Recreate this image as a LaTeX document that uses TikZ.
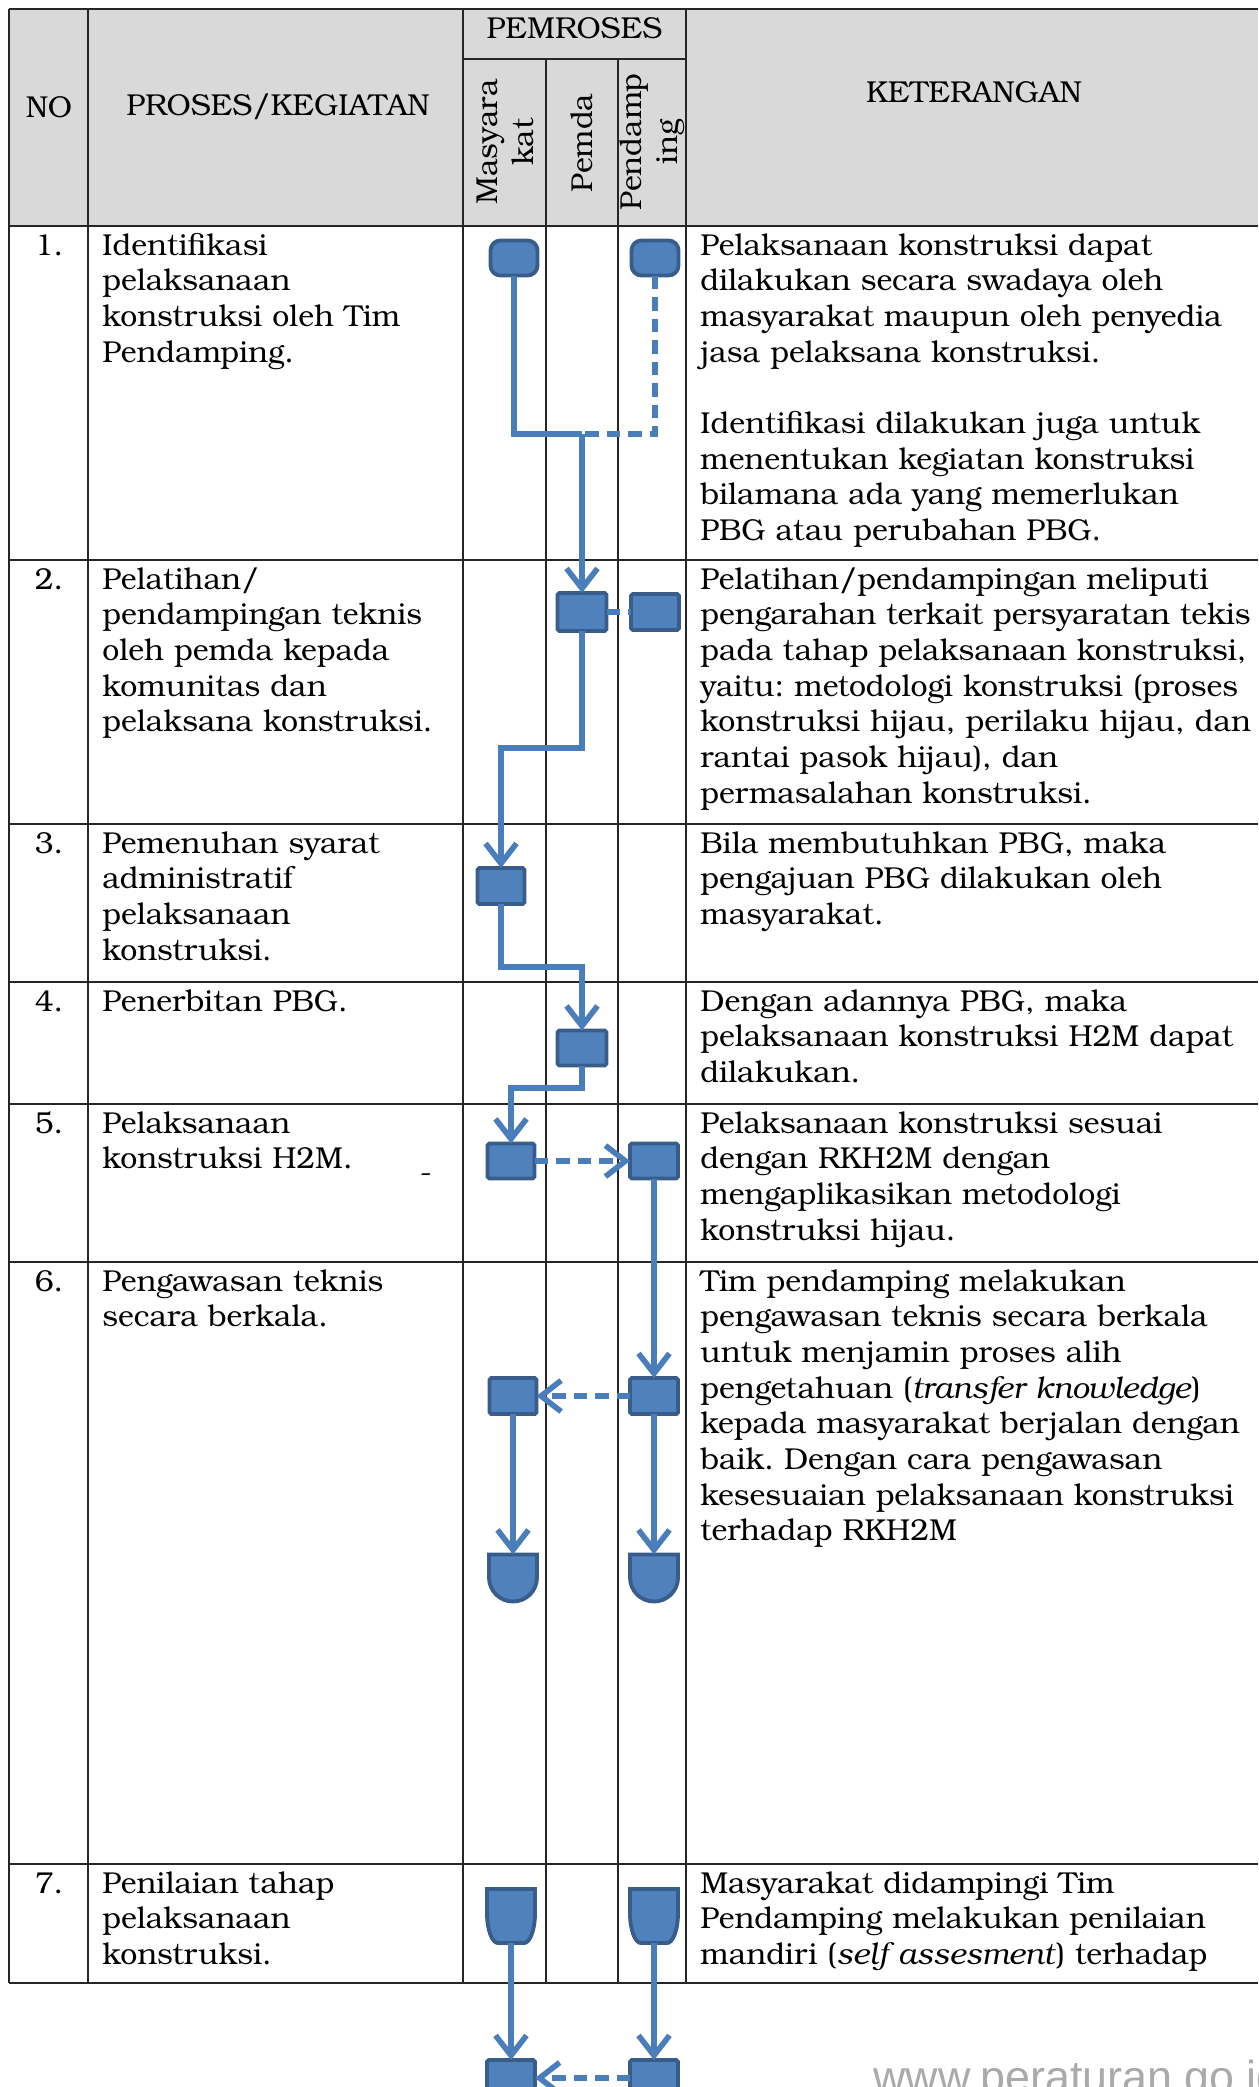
\documentclass[tikz,border=0pt]{standalone}
\usepackage{fontspec}
\setmainfont{TeX Gyre Bonum}
\newfontfamily\wmfont{Liberation Sans}
\usetikzlibrary{arrows.meta, calc}
\definecolor{lane}{RGB}{79,129,189}
\definecolor{laneedge}{RGB}{56,93,138}
\definecolor{flow}{RGB}{74,126,187}
\definecolor{hdr}{RGB}{217,217,217}
\definecolor{wm}{RGB}{170,170,170}
\frenchspacing

\begin{document}
\begin{tikzpicture}[font=\fontsize{17.2}{20.3}\selectfont,
  tabline/.style={line width=0.8pt, black!85},
  txt/.style={anchor=base west, align=left, inner sep=0, text width=#1},
  num/.style={anchor=base, inner sep=0},
  term/.style={draw=laneedge, line width=2.2pt, fill=lane, rounded corners=0.2cm, minimum width=0.94cm, minimum height=0.7cm, inner sep=0, outer sep=0},
  act/.style={draw=laneedge, line width=2.2pt, fill=lane, rounded corners=1pt, minimum width=0.96cm, minimum height=0.72cm, inner sep=0, outer sep=0},
  endbox/.style={minimum width=0.96cm, minimum height=#1, inner sep=0, outer sep=0},
  shapeline/.style={draw=laneedge, line width=2.2pt, fill=lane},
  ar/.style={-{Straight Barb[length=0.4cm, width=0.62cm]}, line width=3.2pt, flow},
  ln/.style={line width=3.2pt, flow},
  dsh/.style={dash pattern=on 0.27cm off 0.16cm}]

\useasboundingbox (0,0) rectangle (25.16,-41.74);
\clip (0,0) rectangle (25.16,-41.74);

% table
\fill[hdr] (0.18,-0.18) rectangle (25.16,-4.52);
\foreach \y in {0.18,4.52,11.20,16.48,19.64,22.08,25.24,37.28,39.66}
  \draw[tabline] (0.18,-\y) -- (25.16,-\y);
\draw[tabline] (9.26,-1.18) -- (13.72,-1.18);
\foreach \x in {0.18,1.76,9.26,13.72}
  \draw[tabline] (\x,-0.18) -- (\x,-39.66);
\foreach \x in {10.92,12.36}
  \draw[tabline] (\x,-1.18) -- (\x,-39.66);

% header
\node (hno) at (0.98,-2.14) {NO};
\node (hproc) at (5.56,-2.14) {PROSES/KEGIATAN};
\node (hpem) at (11.49,-0.56) {PEMROSES};
\node[rotate=90, align=center] (hmas) at (10.10,-2.84) {Masyara\\kat};
\node[rotate=90] (hpemda) at (11.64,-2.86) {Pemda};
\node[rotate=90, align=center] (hpend) at (13.04,-2.84) {Pendamp\\ing};
\node (hket) at (19.48,-1.85) {KETERANGAN};

% row numbers
\foreach \n/\y in {1/5.10,2/11.78,3/17.06,4/20.22,5/22.66,6/25.82,7/37.86}
  \node[num] (no\n) at (0.98,-\y) {\n.};

% proses / kegiatan
\node[txt=7.4cm] (p1) at (2.04,-5.10) {Identifikasi\\pelaksanaan\\konstruksi oleh Tim\\Pendamping.};
\node[txt=7.4cm] (p2) at (2.04,-11.78) {Pelatihan/\\pendampingan teknis\\oleh pemda kepada\\komunitas dan\\pelaksana konstruksi.};
\node[txt=7.4cm] (p3) at (2.04,-17.06) {Pemenuhan syarat\\administratif\\pelaksanaan\\konstruksi.};
\node[txt=7.4cm] (p4) at (2.04,-20.22) {Penerbitan PBG.};
\node[txt=7.4cm] (p5) at (2.04,-22.66) {Pelaksanaan\\konstruksi H2M.};
\node[txt=7.4cm] (p6) at (2.04,-25.82) {Pengawasan teknis\\secara berkala.};
\node[txt=7.4cm] (p7) at (2.04,-37.86) {Penilaian tahap\\pelaksanaan\\konstruksi.};
\node (dash5) at (8.52,-23.56) {-};

% keterangan
\node[txt=11.3cm] (k1) at (14.00,-5.10) {Pelaksanaan konstruksi dapat\\dilakukan secara swadaya oleh\\masyarakat maupun oleh penyedia\\jasa pelaksana konstruksi.\\[20.3pt]Identifikasi dilakukan juga untuk\\menentukan kegiatan konstruksi\\bilamana ada yang memerlukan\\PBG atau perubahan PBG.};
\node[txt=11.3cm] (k2) at (14.00,-11.78) {Pelatihan/pendampingan meliputi\\pengarahan terkait persyaratan tekis\\pada tahap pelaksanaan konstruksi,\\yaitu: metodologi konstruksi (proses\\konstruksi hijau, perilaku hijau, dan\\rantai pasok hijau), dan\\permasalahan konstruksi.};
\node[txt=11.3cm] (k3) at (14.00,-17.06) {Bila membutuhkan PBG, maka\\pengajuan PBG dilakukan oleh\\masyarakat.};
\node[txt=11.3cm] (k4) at (14.00,-20.22) {Dengan adannya PBG, maka\\pelaksanaan konstruksi H2M dapat\\dilakukan.};
\node[txt=11.3cm] (k5) at (14.00,-22.66) {Pelaksanaan konstruksi sesuai\\dengan RKH2M dengan\\mengaplikasikan metodologi\\konstruksi hijau.};
\node[txt=11.3cm] (k6) at (14.00,-25.82) {Tim pendamping melakukan\\pengawasan teknis secara berkala\\untuk menjamin proses alih\\pengetahuan (\textit{transfer knowledge})\\kepada masyarakat berjalan dengan\\baik. Dengan cara pengawasan\\kesesuaian pelaksanaan konstruksi\\terhadap RKH2M};
\node[txt=11.3cm] (k7) at (14.00,-37.86) {Masyarakat didampingi Tim\\Pendamping melakukan penilaian\\mandiri (\textit{self assesment}) terhadap};

% flow shapes
\node[term] (s1m) at (10.28,-5.16) {};
\node[term] (s1p) at (13.10,-5.16) {};
\coordinate (j1) at (11.64,-8.68);
\node[act, minimum width=0.98cm, minimum height=0.76cm] (b2d) at (11.64,-12.24) {};
\node[act] (b2p) at (13.10,-12.24) {};
\coordinate (j2) at (10.02,-14.96);
\node[act, minimum width=0.94cm] (b3m) at (10.02,-17.72) {};
\coordinate (j3) at (11.64,-19.34);
\node[act, minimum width=0.98cm, minimum height=0.70cm] (b4d) at (11.64,-20.96) {};
\coordinate (j4) at (10.22,-21.76);
\node[act, minimum width=0.94cm, minimum height=0.70cm] (b5m) at (10.22,-23.22) {};
\node[act, minimum height=0.70cm] (b5p) at (13.08,-23.22) {};
\node[act, minimum width=0.94cm] (b6m) at (10.26,-27.92) {};
\node[act] (b6p) at (13.08,-27.92) {};
\node[endbox=0.94cm] (d6m) at (10.26,-31.56) {};
\node[endbox=0.94cm] (d6p) at (13.08,-31.56) {};
\node[endbox=1.08cm] (t7m) at (10.22,-38.32) {};
\node[endbox=1.08cm] (t7p) at (13.08,-38.32) {};
\node[act] (b8m) at (10.22,-41.56) {};
\node[act] (b8p) at (13.08,-41.56) {};

% delay and shield outlines
\foreach \n in {d6m,d6p}
  \draw[shapeline] (\n.north west) -- (\n.north east) -- ++(0,-0.46)
    arc[start angle=0, end angle=-180, radius=0.48cm] -- cycle;
\foreach \n in {t7m,t7p}
  \draw[shapeline] (\n.north west) -- (\n.north east) -- ++(0,-0.48)
    arc[start angle=0, end angle=-90, x radius=0.22cm, y radius=0.6cm] -- ++(-0.52,0)
    arc[start angle=-90, end angle=-180, x radius=0.22cm, y radius=0.6cm] -- cycle;

% connectors
\draw[ln] (s1m) |- (j1);
\draw[ln, dsh] (s1p) |- (j1);
\draw[ar] (j1) -- (b2d);
\draw[ln, dsh] (b2d) -- (b2p);
\draw[ar] (b2d) |- (j2) -- (b3m);
\draw[ar] (b3m) |- (j3) -- (b4d);
\draw[ar] (b4d) |- (j4) -- (b5m);
\draw[ar, dsh] (b5m) -- (b5p);
\draw[ar] (b5p) -- (b6p);
\draw[ar, dsh] (b6p) -- (b6m);
\draw[ar] (b6m) -- (d6m);
\draw[ar] (b6p) -- (d6p);
\draw[ar] (t7m) -- (b8m);
\draw[ar] (t7p) -- (b8p);
\draw[ar, dsh] (b8p) -- (b8m);

% watermark
\node[anchor=base west, inner sep=0, text=wm, font=\wmfont\fontsize{25.5}{30}\selectfont] (wmark) at (17.46,-41.84) {www.peraturan.go.id};
\end{tikzpicture}
\end{document}
